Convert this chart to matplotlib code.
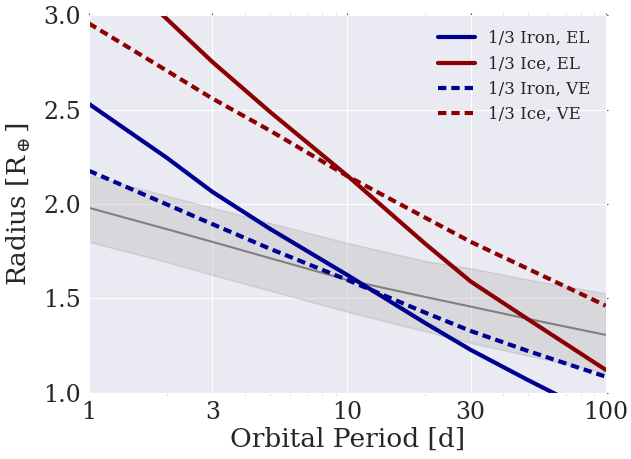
import matplotlib
matplotlib.use("Agg")
import matplotlib.pyplot as plt
from matplotlib.ticker import FixedLocator, NullFormatter, LogLocator
import seaborn as sns
import numpy as np

sns.set_style("darkgrid")
plt.rcParams['font.family'] = ['DejaVu Serif']
plt.rcParams['mathtext.fontset'] = 'dejavuserif'

# orbital periods [d]
period = np.array([1, 2, 3, 5, 10, 20, 30, 50, 100])

# radius curves [R_earth]
iron_el = [2.53, 2.245, 2.065, 1.87, 1.624, 1.37, 1.228, 1.068, 0.86]
ice_el = [3.36, 2.98, 2.753, 2.49, 2.15, 1.79, 1.59, 1.39, 1.122]
iron_ve = [2.176, 1.998, 1.894, 1.764, 1.598, 1.425, 1.328, 1.222, 1.086]
ice_ve = [2.956, 2.706, 2.559, 2.39, 2.148, 1.928, 1.80, 1.657, 1.462]

# observed mass-radius relation and its spread
obs_mid = [1.98, 1.867, 1.80, 1.714, 1.598, 1.508, 1.457, 1.392, 1.307]
obs_hi = [2.153, 2.044, 1.98, 1.90, 1.794, 1.698, 1.66, 1.60, 1.527]
obs_lo = [1.80, 1.693, 1.625, 1.542, 1.43, 1.326, 1.265, 1.198, 1.105]

xticks = [1, 3, 10, 30, 100]
xticklabels = ['1', '3', '10', '30', '100']

fig = plt.figure(figsize=(6.31, 4.59), dpi=100)
ax = fig.add_axes([0.141, 0.144, 0.819, 0.823])

blue = '#000090'
red = '#8b0000'

ax.fill_between(period, obs_lo, obs_hi, facecolor='#b4b4b4', alpha=0.35,
                lw=1, edgecolor='#a8a8a8')
ax.plot(period, obs_mid, color='gray', lw=1.5)

ax.plot(period, iron_el, color=blue, lw=3, label='1/3 Iron, EL')
ax.plot(period, ice_el, color=red, lw=3, label='1/3 Ice, EL')
ax.plot(period, iron_ve, color=blue, lw=3, dashes=[2, 1.2], label='1/3 Iron, VE')
ax.plot(period, ice_ve, color=red, lw=3, dashes=[2, 1.2], label='1/3 Ice, VE')

ax.set_xscale('log')
ax.set_xlim(1, 100)
ax.set_ylim(1.0, 3.0)
ax.xaxis.set_major_locator(FixedLocator(xticks))
ax.set_xticklabels(xticklabels)
ax.xaxis.set_minor_locator(LogLocator(subs=np.arange(2, 10)))
ax.xaxis.set_minor_formatter(NullFormatter())
ax.set_yticks([1.0, 1.5, 2.0, 2.5, 3.0])
ax.tick_params(axis='both', which='major', labelsize=17, length=1.5, width=0.8,
               color='0.3', pad=4, top=True, right=True, direction='out')
ax.tick_params(axis='x', which='minor', direction='out', length=1.2, width=0.5,
               color='0.75', top=True, bottom=True)

ax.set_xlabel('Orbital Period [d]', fontsize=19, labelpad=2)
ax.set_ylabel(r'Radius [R$_\oplus$]', fontsize=19, labelpad=8)

leg = ax.legend(loc='upper right', frameon=False, fontsize=12, handlelength=2.2)

fig.savefig('out.png', dpi=100)
